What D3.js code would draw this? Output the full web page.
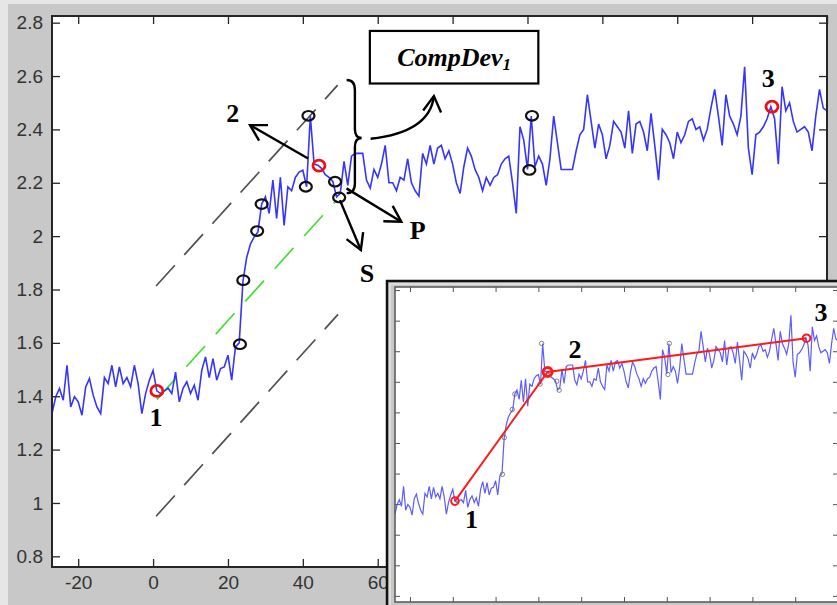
<!DOCTYPE html>
<html><head><meta charset="utf-8">
<script src="https://cdn.jsdelivr.net/npm/d3@7"></script>
<style>body{margin:0;background:#e6e6e6}svg{display:block}</style>
</head><body>
<script>
// ---------- data ----------
const seriesX = [-27,-26,-25,-24,-23,-22,-21,-20,-19,-18,-17,-16,-15,-14,-13,-12,-11,-10,-9,-8,-7,-6,-5,-4,-3,-2,-1,
 0,1,2,3,4,5,6,7,8,9,10,11,12,13,14,15,16,17,18,19,20,21,22,23,24,25,26,27,28,29,30,31,32,33,34,35,36,37,38,39,40,
 41,42,43,44,45,46,47,48,49,50,51,52,53,54,55,56,57,58,59,60,61,62,63,64,65,66,67,68,69,70,71,72,73,74,75,76,77,78,79,80,
 81,82,83,84,85,86,87,88,89,90,91,92,93,94,95,96,97,98,99,100,101,102,103,104,105,106,107,108,109,110,111,112,113,114,115,
 116,117,118,119,120,121,122,123,124,125,126,127,128,129,130,131,132,133,134,135,136,137,138,139,140,141,142,143,144,145,
 146,147,148,149,150,151,152,153,154,155,156,157,158,159,160,161,162,163,164,165,166,167,168,169,170,171,172,173,174,175,
 176,177,178,179,180];
const seriesY = [1.335,1.398,1.429,1.385,1.516,1.36,1.398,1.379,1.329,1.435,1.466,1.404,1.36,1.335,1.47,1.447,1.516,1.435,1.51,1.447,1.47,1.435,1.516,1.447,1.335,1.41,1.46,
 1.497,1.42,1.41,1.42,1.43,1.41,1.49,1.379,1.43,1.454,1.41,1.441,1.385,1.497,1.547,1.47,1.541,1.46,1.504,1.51,1.554,1.46,1.585,1.60,1.83,1.92,1.97,1.997,2.016,2.12,2.147,2.085,2.21,2.066,2.22,2.04,2.185,2.17,2.22,2.24,2.247,
 2.185,2.45,2.27,2.266,2.254,2.23,2.22,2.205,2.147,2.16,2.28,2.19,2.30,2.31,2.31,2.31,2.21,2.18,2.25,2.22,2.27,2.34,2.20,2.20,2.17,2.22,2.21,2.29,2.20,2.17,2.15,2.31,2.27,2.34,2.27,2.33,2.34,2.29,2.32,2.27,
 2.20,2.16,2.26,2.33,2.30,2.25,2.22,2.17,2.22,2.19,2.22,2.23,2.27,2.29,2.30,2.20,2.085,2.41,2.36,2.25,2.45,2.26,2.30,2.27,2.19,2.29,2.45,2.35,2.25,2.25,2.25,2.25,2.32,2.38,2.40,
 2.53,2.43,2.33,2.42,2.38,2.29,2.34,2.43,2.41,2.39,2.33,2.47,2.31,2.42,2.43,2.39,2.32,2.46,2.34,2.21,2.40,2.38,2.35,2.29,2.39,2.35,2.38,2.43,2.44,2.40,
 2.41,2.36,2.40,2.48,2.55,2.45,2.34,2.53,2.45,2.42,2.38,2.45,2.635,2.33,2.23,2.38,2.39,2.41,2.44,2.485,2.44,2.27,2.56,2.47,2.50,2.43,2.39,2.40,2.41,2.39,
 2.32,2.45,2.55,2.48,2.47];

const xTicks = [-20,0,20,40,60,80,100,120,140,160,180];
// labels beyond 60 lie under the inset picture and are not visible
const xTickLabels = ["-20","0","20","40","60","","","","","",""];
const yTicks = [0.8,1.0,1.2,1.4,1.6,1.8,2.0,2.2,2.4,2.6,2.8];
const yTickLabels = ["0.8","1","1.2","1.4","1.6","1.8","2","2.2","2.4","2.6","2.8"];

const blackCircles = [[23.2,1.595],[24.1,1.835],[27.8,2.019],[29,2.12],[40.8,2.185],[41.5,2.451],[48.6,2.204],[49.7,2.145],[100.5,2.248],[101.2,2.451]];
const keyPoints = [[1,1.42],[44.3,2.264],[165.3,2.485]];
const keyLabels = ["1","2","3"];
const upperBound = [[0.8,1.813],[49.3,2.566]];
const lowerBound = [[0.8,0.95],[49.4,1.707]];
const greenLine = [[1,1.388],[49,2.135]];

// annotation anchors (data coords)
const mainLabelPos = [[0.8,1.321],[21.3,2.461],[164.3,2.589]];
const pLabel = {text:"P", x:70.7, y:2.022};
const sLabel = {text:"S", x:57.1, y:1.861};
const arrows = [ {from:[41.4,2.291], to:[25.9,2.416]}, {from:[51.65,2.179], to:[66.3,2.054]}, {from:[49.9,2.135], to:[55.5,1.948]} ];
const boxRange = {x0:57.9, x1:102.9, y0:2.572, y1:2.769};
const insetLabelPos = [[8.8,1.297],[57.1,2.409],[172.1,2.651]];

// ---------- drawing ----------
const W = 837, H = 605;
const svg = d3.select("body").append("svg").attr("width", W).attr("height", H);
svg.append("rect").attr("width", W).attr("height", H).attr("fill", "#e6e6e6");
svg.append("rect").attr("x", 8).attr("y", 4).attr("width", W-8).attr("height", H-4).attr("fill", "#c8c8c8");

const tickFont = "'Liberation Sans', Arial, sans-serif";
const serif = "'Liberation Serif', 'Times New Roman', serif";

function drawAxes(g, x, y, opts) {
  const [x0, x1] = x.range(), [y0, y1] = y.range();
  g.append("rect").attr("x", x0).attr("y", y1).attr("width", x1-x0).attr("height", y0-y1).attr("fill", "#fff");
  const clipId = "clip" + opts.id;
  g.append("clipPath").attr("id", clipId).append("rect").attr("x", x0).attr("y", y1).attr("width", x1-x0).attr("height", y0-y1);
  const plot = g.append("g").attr("clip-path", `url(#${clipId})`);
  const ts = opts.tick;
  const axB = g.append("g").attr("transform", `translate(0,${y0})`)
    .call(d3.axisBottom(x).tickValues(xTicks).tickSize(-ts).tickSizeOuter(0).tickPadding(9)
      .tickFormat((d,i)=> opts.labels ? xTickLabels[i] : ""));
  const axL = g.append("g").attr("transform", `translate(${x0},0)`)
    .call(d3.axisLeft(y).tickValues(yTicks).tickSize(-ts).tickSizeOuter(0).tickPadding(9)
      .tickFormat((d,i)=> opts.labels ? yTickLabels[i] : ""));
  const axT = g.append("g").attr("transform", `translate(0,${y1})`)
    .call(d3.axisTop(x).tickValues(xTicks).tickSize(-ts).tickSizeOuter(0).tickFormat(""));
  const axR = g.append("g").attr("transform", `translate(${x1},0)`)
    .call(d3.axisRight(y).tickValues(yTicks).tickSize(-ts).tickSizeOuter(0).tickFormat(""));
  [axB, axL, axT, axR].forEach(a => {
    a.select(".domain").remove();
    a.selectAll(".tick line").attr("stroke", opts.axisColor).attr("stroke-width", opts.tickW);
    a.selectAll("text").attr("fill", "#333").style("font-family", tickFont).style("font-size", "19px");
    a.selectAll("text").filter(function(){ return this.textContent === ""; }).remove();
  });
  g.append("rect").attr("x", x0).attr("y", y1).attr("width", x1-x0).attr("height", y0-y1)
    .attr("fill", "none").attr("stroke", opts.axisColor).attr("stroke-width", opts.frameW);
  return plot;
}

// main axes
const x = d3.scaleLinear().domain([-27, 180]).range([52, 827]);
const y = d3.scaleLinear().domain([0.76, 2.825]).range([567, 16]);
const main = svg.append("g");
const plot = drawAxes(main, x, y, {id:"m", tick:8, labels:true, axisColor:"#262626", tickW:1.3, frameW:2});

const line = d3.line().x(d=>x(d[0])).y(d=>y(d[1]));
plot.append("path").datum(upperBound).attr("d", line).attr("stroke", "#505050").attr("stroke-width", 1.7).attr("fill","none").attr("stroke-dasharray","28,14");
plot.append("path").datum(lowerBound).attr("d", line).attr("stroke", "#505050").attr("stroke-width", 1.7).attr("fill","none").attr("stroke-dasharray","28,14");
plot.append("path").datum(greenLine).attr("d", line).attr("stroke", "#44dd33").attr("stroke-width", 1.7).attr("fill","none").attr("stroke-dasharray","28,16");

const seriesData = seriesX.map((v,i)=>[v, seriesY[i]]);
plot.append("path").datum(seriesData).attr("d", line).attr("stroke", "#3535ff").attr("stroke-width", 1.6).attr("fill","none");

plot.selectAll(".bc").data(blackCircles).enter().append("ellipse")
  .attr("cx", d=>x(d[0])).attr("cy", d=>y(d[1])).attr("rx", 6).attr("ry", 4.8)
  .attr("fill","none").attr("stroke","#111").attr("stroke-width", 2.2);
plot.selectAll(".rc").data(keyPoints).enter().append("ellipse")
  .attr("cx", d=>x(d[0])).attr("cy", d=>y(d[1])).attr("rx", 6).attr("ry", 5.5)
  .attr("fill","none").attr("stroke","#ee1111").attr("stroke-width", 2.8);

// annotations
const ann = svg.append("g");
function arrow(g, x1, y1, x2, y2) {
  const dx = x2 - x1, dy = y2 - y1;
  const L = Math.hypot(dx, dy), ux = -dx/L, uy = -dy/L, len = 18, a = Math.PI/6;
  const p1 = [x2 + len*(ux*Math.cos(a) - uy*Math.sin(a)), y2 + len*(ux*Math.sin(a) + uy*Math.cos(a))];
  const p2 = [x2 + len*(ux*Math.cos(-a) - uy*Math.sin(-a)), y2 + len*(ux*Math.sin(-a) + uy*Math.cos(-a))];
  g.append("path").attr("d", `M${p1[0]},${p1[1]}L${x2},${y2}L${p2[0]},${p2[1]}`)
    .attr("fill","none").attr("stroke","#000").attr("stroke-width",2.4);
}
arrows.forEach(a => {
  const X1 = x(a.from[0]), Y1 = y(a.from[1]), X2 = x(a.to[0]), Y2 = y(a.to[1]);
  ann.append("line").attr("x1",X1).attr("y1",Y1).attr("x2",X2).attr("y2",Y2).attr("stroke","#000").attr("stroke-width",2.4);
  arrow(ann, X1, Y1, X2, Y2);
});

// brace
const bx = x(53.9), bTop = y(2.585), bBot = y(2.161), bTipX = x(55.7), bTipY = y(2.368), bEndX = x(51.7);
ann.append("path").attr("d",
  `M${bEndX},${bTop} Q${bx},${bTop} ${bx},${bTop+10} L${bx},${bTipY-9} Q${bx},${bTipY} ${bTipX},${bTipY} Q${bx},${bTipY} ${bx},${bTipY+9} L${bx},${bBot-10} Q${bx},${bBot} ${bEndX},${bBot}`)
  .attr("fill","none").attr("stroke","#000").attr("stroke-width",2.4);
// curved arrow
const c0 = [x(58.1), y(2.365)], c1 = [x(73.9), y(2.39)], c2 = [x(75.0), y(2.525)];
ann.append("path").attr("d", `M${c0[0]},${c0[1]} Q${c1[0]},${c1[1]} ${c2[0]},${c2[1]}`)
  .attr("fill","none").attr("stroke","#000").attr("stroke-width",2.4);
arrow(ann, c1[0], c1[1], c2[0], c2[1]);

// box
ann.append("rect").attr("x", x(boxRange.x0)).attr("y", y(boxRange.y1))
  .attr("width", x(boxRange.x1)-x(boxRange.x0)).attr("height", y(boxRange.y0)-y(boxRange.y1))
  .attr("fill","#fff").attr("stroke","#000").attr("stroke-width",2.2);
const bt = ann.append("text").attr("x", x((boxRange.x0+boxRange.x1)/2)).attr("y", y((boxRange.y0+boxRange.y1)/2))
  .attr("text-anchor","middle").attr("dominant-baseline","central")
  .style("font-family", serif).style("font-weight","bold").style("font-style","italic").style("font-size","26px");
bt.append("tspan").text("CompDev");
bt.append("tspan").text("1").style("font-size","17px").attr("dy", 7);

function label(g, t, px, py) {
  g.append("text").attr("x", px).attr("y", py).attr("text-anchor","middle").attr("dominant-baseline","central")
    .style("font-family", serif).style("font-weight","bold").style("font-size","26px").attr("fill","#000").text(t);
}
mainLabelPos.forEach((p,i)=> label(ann, keyLabels[i], x(p[0]), y(p[1])));
label(ann, pLabel.text, x(pLabel.x), y(pLabel.y));
label(ann, sLabel.text, x(sLabel.x), y(sLabel.y));

// ---------- inset ----------
const inset = svg.append("g");
inset.append("rect").attr("x", 387).attr("y", 281).attr("width", 470).attr("height", 340)
  .attr("fill", "#c8c8c8").attr("stroke", "#111").attr("stroke-width", 2.5);
inset.append("rect").attr("x", 390).attr("y", 284).attr("width", 470).attr("height", 340)
  .attr("fill", "none").attr("stroke", "#e4e4e4").attr("stroke-width", 1.5);
const xi = d3.scaleLinear().domain([-27, 180]).range([395, 838]);
const yi = d3.scaleLinear().domain([0.76, 2.82]).range([602, 287]);
const iplot = drawAxes(inset, xi, yi, {id:"i", tick:5, labels:false, axisColor:"#555", tickW:1, frameW:1.5});
const iline = d3.line().x(d=>xi(d[0])).y(d=>yi(d[1]));
iplot.append("path").datum(seriesData).attr("d", iline).attr("stroke", "#5c5cff").attr("stroke-width", 1.2).attr("fill","none");
iplot.selectAll(".ibc").data(blackCircles).enter().append("circle")
  .attr("cx", d=>xi(d[0])).attr("cy", d=>yi(d[1])).attr("r", 2.2)
  .attr("fill","none").attr("stroke","#666").attr("stroke-width", 0.8);
iplot.append("path").datum(keyPoints).attr("d", iline).attr("stroke", "#ff1a1a").attr("stroke-width", 2).attr("fill","none");
iplot.selectAll(".irc").data(keyPoints).enter().append("circle")
  .attr("cx", d=>xi(d[0])).attr("cy", d=>yi(d[1])).attr("r", (d,i)=> i===1 ? 4.5 : 3.8)
  .attr("fill","none").attr("stroke","#ff1a1a").attr("stroke-width", (d,i)=> i===1 ? 3 : 2);
insetLabelPos.forEach((p,i)=> label(inset, keyLabels[i], xi(p[0]), yi(p[1])));
</script>
</body></html>
